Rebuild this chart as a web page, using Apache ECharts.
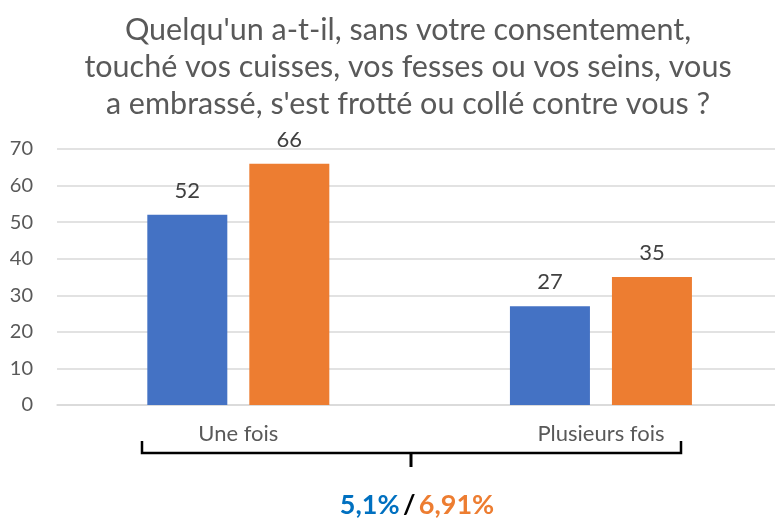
<!DOCTYPE html>
<html>
<head>
<meta charset="utf-8">
<title>Consentement</title>
<script src="https://cdn.jsdelivr.net/npm/echarts@6/dist/echarts.min.js"></script>
<style>
  html, body { margin: 0; padding: 0; background: #fff; }
  #chart { width: 775px; height: 518px; }
</style>
</head>
<body>
<div id="chart"></div>
<script>
const categories = ['Une fois', 'Plusieurs fois']
const serieBleue = [52, 27]
const serieOrange = [66, 35]
const yTicks = { min: 0, max: 70, interval: 10 }
const titre = "Quelqu'un a-t-il, sans votre consentement,\ntouché vos cuisses, vos fesses ou vos seins, vous\na embrassé, s'est frotté ou collé contre vous ?"
const pourcentBleu = '5,1%'
const pourcentOrange = '6,91%'

const police = 'Lato, "Noto Sans", sans-serif'

const chart = echarts.init(document.getElementById('chart'))

// étiquette de barre commune
const labelBarre = {
  show: true,
  position: 'top',
  distance: 13,
  color: '#404040',
  fontSize: 22,
  fontFamily: police,
  formatter: (p) => p.value[1],
}

// la zone de tracé dépasse à droite du cadre : axe x numérique, une unité par catégorie
const versPoints = (valeurs) => valeurs.map((v, i) => [i, v])

const option = {
  animation: false,
  title: {
    text: titre,
    left: 408,
    top: 12,
    padding: 0,
    textAlign: 'center',
    textStyle: {
      fontFamily: police,
      fontSize: 30.5,
      fontWeight: 'normal',
      color: '#595959',
      lineHeight: 37,
    },
  },
  grid: {
    left: 57,
    top: 149,
    right: 0,
    height: 256,
  },
  xAxis: {
    type: 'value',
    min: -0.5,
    max: 1.48,
    splitLine: { show: false },
    axisTick: { show: false },
    axisLine: { show: true, lineStyle: { color: '#D9D9D9', width: 1.5 } },
    axisLabel: {
      customValues: [0, 1],
      margin: 18,
      fontFamily: police,
      fontSize: 22,
      color: '#595959',
      formatter: (v) => categories[v],
    },
  },
  yAxis: {
    type: 'value',
    min: yTicks.min,
    max: yTicks.max,
    interval: yTicks.interval,
    axisLine: { show: false, onZero: false },
    axisTick: { show: false },
    axisLabel: {
      margin: 24,
      fontFamily: police,
      fontSize: 20,
      color: '#595959',
    },
    splitLine: { lineStyle: { color: '#D9D9D9', width: 1.5 } },
  },
  series: [
    {
      type: 'bar',
      data: versPoints(serieBleue),
      barWidth: 80,
      barGap: '27.5%',
      itemStyle: { color: '#4472C4' },
      label: labelBarre,
    },
    {
      type: 'bar',
      data: versPoints(serieOrange),
      barWidth: 80,
      itemStyle: { color: '#ED7D31' },
      label: labelBarre,
    },
  ],
  graphic: [
    {
      // accolade sous l'axe
      type: 'polyline',
      shape: {
        points: [[142, 441], [142, 453], [681, 453], [681, 441]],
      },
      style: { stroke: '#000', lineWidth: 2.5, fill: null },
    },
    {
      type: 'line',
      shape: { x1: 411, y1: 453, x2: 411, y2: 467 },
      style: { stroke: '#000', lineWidth: 3 },
    },
    {
      type: 'text',
      x: 417,
      y: 505,
      style: {
        text: '{b|' + pourcentBleu + '} {n|/} {o|' + pourcentOrange + '}',
        align: 'center',
        verticalAlign: 'middle',
        rich: {
          b: { fontFamily: police, fontSize: 27, fontWeight: 'bold', fill: '#0070C0' },
          n: { fontFamily: police, fontSize: 27, fontWeight: 'bold', fill: '#000' },
          o: { fontFamily: police, fontSize: 27, fontWeight: 'bold', fill: '#ED7D31' },
        },
      },
    },
  ],
}

chart.setOption(option)
window.addEventListener('resize', () => chart.resize())
</script>
</body>
</html>
